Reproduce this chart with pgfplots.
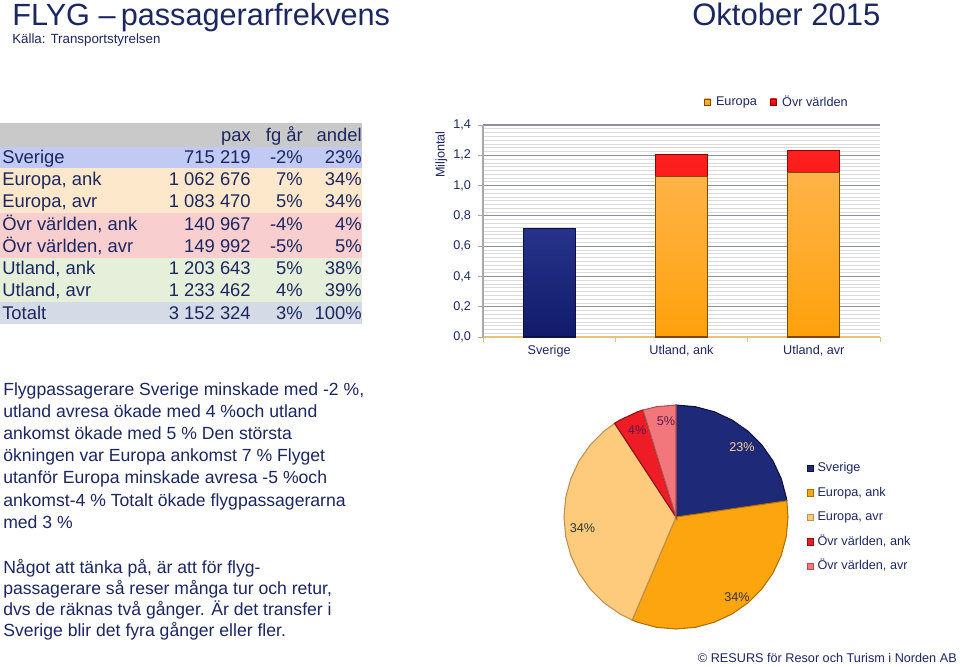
\documentclass[border=0pt]{standalone}
\usepackage{fontspec}
\setmainfont{Liberation Sans}
\usepackage{pgfplots}
\pgfplotsset{compat=1.18}
\usepackage{pgfplotstable}
\usepgfplotslibrary{polar}

\definecolor{txt}{HTML}{1C2761}
\definecolor{hdr}{HTML}{C9C9C9}
\definecolor{rsve}{HTML}{C0CAF2}
\definecolor{reur}{HTML}{FEE8CB}
\definecolor{rovr}{HTML}{F9CECE}
\definecolor{rutl}{HTML}{E5EFDA}
\definecolor{rtot}{HTML}{D4DAE6}
\definecolor{navy}{HTML}{1E2A78}
\definecolor{navyT}{HTML}{26338A}
\definecolor{navyB}{HTML}{121B6A}
\definecolor{navyD}{HTML}{0B103F}
\definecolor{orT}{HTML}{FFB448}
\definecolor{orB}{HTML}{FFA10C}
\definecolor{orD}{HTML}{7A4A00}
\definecolor{redT}{HTML}{FF2020}
\definecolor{redB}{HTML}{E00000}
\definecolor{redD}{HTML}{8A0000}
\definecolor{pOr}{HTML}{FDA50F}
\definecolor{pOrD}{HTML}{B07000}
\definecolor{pLo}{HTML}{FECB7C}
\definecolor{pLoD}{HTML}{C09050}
\definecolor{pRed}{HTML}{EE1C24}
\definecolor{pRedD}{HTML}{901010}
\definecolor{pPink}{HTML}{F2777C}
\definecolor{pPinkD}{HTML}{B05050}
\definecolor{majgrid}{HTML}{8C90A0}
\definecolor{mingrid}{HTML}{DADADA}
\definecolor{xax}{HTML}{E8C27A}
\definecolor{yax}{HTML}{A8A8A8}

\pgfplotsset{sqlegend/.style={legend image code/.code={\path[##1, line width=0.4pt] (0pt,-2.4pt) rectangle (4.6pt,2.4pt);}}}

\pgfplotstableread{
x pax
0 0.715219
}\barSverige
\pgfplotstableread{
x pax
1 1.062676
2 1.083470
}\barEuropa
\pgfplotstableread{
x pax
1 1.203643
2 1.233462
}\barUtland

\newcommand\fs[2]{\fontsize{#1}{#2}\selectfont}
\newcommand\trow[5]{%
  \node[anchor=base west] at (2,#1) {#2};
  \node[anchor=base east] at (251,#1) {#3};
  \node[anchor=base east] at (303,#1) {#4};
  \node[anchor=base east] at (362,#1) {#5};}

\begin{document}
\begin{tikzpicture}
\begin{scope}[x=0.75pt,y=-0.75pt]
\useasboundingbox (0,0) rectangle (960,667);
\fill[white] (0,0) rectangle (960,667);
% titles
\node[anchor=base west, inner sep=0, text=txt, font=\fs{23}{27}] at (12,26) {FLYG –\,passagerarfrekvens};
\node[anchor=base west, inner sep=0, text=txt, font=\fs{10}{12}] at (12,44) {Källa: Transportstyrelsen};
\node[anchor=base west, inner sep=0, text=txt, font=\fs{23.3}{27}] at (692,26) {Oktober 2015};
\node[anchor=base east, inner sep=0, text=txt, font=\fs{9.5}{11}] at (957,662) {© RESURS för Resor och Turism i Norden AB};
% table
\fill[hdr] (0,123) rectangle (362,147);
\fill[rsve] (0,147) rectangle (362,168);
\fill[reur] (0,168) rectangle (362,213);
\fill[rovr] (0,213) rectangle (362,258);
\fill[rutl] (0,258) rectangle (362,302);
\fill[rtot] (0,302) rectangle (362,324);
\begin{scope}[every node/.style={inner sep=0pt, text=txt, font=\fs{13.8}{16}}]
\trow{142}{}{pax}{fg år}{andel}
\trow{163.3}{Sverige}{715 219}{-2\%}{23\%}
\trow{185.5}{Europa, ank}{1 062 676}{7\%}{34\%}
\trow{207.8}{Europa, avr}{1 083 470}{5\%}{34\%}
\trow{230}{Övr världen, ank}{140 967}{-4\%}{4\%}
\trow{252.3}{Övr världen, avr}{149 992}{-5\%}{5\%}
\trow{274.5}{Utland, ank}{1 203 643}{5\%}{38\%}
\trow{296.8}{Utland, avr}{1 233 462}{4\%}{39\%}
\trow{319}{Totalt}{3 152 324}{3\%}{100\%}
\end{scope}
% paragraphs
\begin{scope}[every node/.style={inner sep=0pt, text=txt, font=\fs{13.2}{16}, anchor=base west}]
\node at (3,395) {Flygpassagerare Sverige minskade med -2 \%,};
\node at (3,417.2) {utland avresa ökade med 4 \%och utland};
\node at (3,439.4) {ankomst ökade med 5 \% Den största};
\node at (3,461.6) {ökningen var Europa ankomst 7 \% Flyget};
\node at (3,483.8) {utanför Europa minskade avresa -5 \%och};
\node at (3,506) {ankomst-4 \% Totalt ökade flygpassagerarna};
\node at (3,528.2) {med 3 \%};
\node at (3,573) {Något att tänka på, är att för flyg-};
\node at (3,594) {passagerare så reser många tur och retur,};
\node at (3,615) {dvs de räknas två gånger. Är det transfer i};
\node at (3,636) {Sverige blir det fyra gånger eller fler.};
\end{scope}
\end{scope}

% ---------------- bar chart
\begin{axis}[
  at={(362.25pt,-252.75pt)}, anchor=south west,
  scale only axis, width=297.75pt, height=159pt,
  xmin=-0.5, xmax=2.5, ymin=0, ymax=1.4,
  axis x line*=bottom, axis y line*=left,
  x axis line style={draw=xax, line width=0.8pt, -},
  y axis line style={draw=yax, line width=0.8pt, -},
  tick align=outside,
  xtick={-0.5,0.5,1.5,2.5}, xticklabels={},
  extra x ticks={0,1,2},
  extra x tick labels={Sverige,{Utland, ank},{Utland, avr}},
  extra x tick style={major tick length=0pt, grid=none,
     xticklabel style={yshift=-3pt}},
  xtick style={draw=xax, line width=0.6pt},
  major tick length=3.5pt,
  ytick={0,0.2,0.4,0.6,0.8,1.0,1.2,1.4},
  minor y tick num=7,
  ytick style={draw=yax, line width=0.6pt},
  minor tick length=0pt,
  ymajorgrids, yminorgrids,
  major grid style={draw=majgrid, line width=0.8pt},
  minor grid style={draw=mingrid, line width=0.5pt},
  yticklabel style={xshift=-2pt, /pgf/number format/.cd, fixed, fixed zerofill, precision=1, use comma, assume math mode=true},
  tick label style={font=\fs{9.5}{11}, text=txt},
  ylabel={Miljontal},
  every axis y label/.style={at={(axis description cs:-0.105,0.86)}, rotate=90, anchor=center, font=\fs{9.5}{11}, text=txt},
  legend columns=2, reverse legend,
  legend style={at={(axis description cs:0.546,1.1085)}, anchor=west, draw=none, fill=none,
     font=\fs{9.5}{11}, text=txt, /tikz/every even column/.append style={column sep=8pt},
     /tikz/every odd column/.append style={column sep=2pt}},
]
\addplot[ybar, bar width=39pt, bar shift=0pt, top color=navyT, bottom color=navyB, draw=navyD, line width=0.8pt, forget plot]
  table[x=x, y=pax] {\barSverige};
\addplot[ybar, bar width=39pt, bar shift=0pt, top color=redT, bottom color=redB, draw=redD, line width=0.8pt, sqlegend]
  table[x=x, y=pax] {\barUtland};
\addlegendentry{Övr världen}
\addplot[ybar, bar width=39pt, bar shift=0pt, top color=orT, bottom color=orB, draw=orD, line width=0.8pt, sqlegend]
  table[x=x, y=pax] {\barEuropa};
\addlegendentry{Europa}
\end{axis}

% ---------------- pie chart
\begin{polaraxis}[
  at={(507pt,-387.75pt)}, anchor=center,
  scale only axis, width=168pt, height=168pt,
  ymin=0, ymax=1, hide axis, clip=false,
  sqlegend, legend cell align=left,
  legend style={at={(axis description cs:1.083,0.752)}, anchor=north west, draw=none, fill=none,
     inner sep=0pt, row sep=7.4pt, font=\fs{9.5}{11},
     /tikz/every odd column/.append style={column sep=2pt},
     nodes={inner sep=1pt, text height=7pt, text depth=2pt, text=txt}},
]
\addplot[fill=navy, draw=navyD, line width=0.8pt] coordinates {
 (0,0) (90,1) (80,1) (70,1) (60,1) (50,1) (40,1) (30,1) (20,1) (10,1) (8.32,1)} -- cycle;
\addlegendentry{Sverige}
\addplot[fill=pOr, draw=pOrD, line width=0.8pt] coordinates {
 (0,0) (8.32,1) (0,1) (-10,1) (-20,1) (-30,1) (-40,1) (-50,1) (-60,1) (-70,1) (-80,1) (-90,1) (-100,1) (-110,1) (-113.04,1)} -- cycle;
\addlegendentry{Europa, ank}
\addplot[fill=pLo, draw=pLoD, line width=0.8pt] coordinates {
 (0,0) (-113.04,1) (-120,1) (-130,1) (-140,1) (-150,1) (-160,1) (-170,1) (-180,1) (-190,1) (-200,1) (-210,1) (-220,1) (-230,1) (-236.77,1)} -- cycle;
\addlegendentry{Europa, avr}
\addplot[fill=pRed, draw=pRedD, line width=0.8pt] coordinates {
 (0,0) (-236.77,1) (-240,1) (-250,1) (-252.87,1)} -- cycle;
\addlegendentry{Övr världen, ank}
\addplot[fill=pPink, draw=pPinkD, line width=0.8pt] coordinates {
 (0,0) (-252.87,1) (-260,1) (-270,1)} -- cycle;
\addlegendentry{Övr världen, avr}
\node[font=\fs{9.5}{11}, text=pLo!80!white] at (axis cs:46.7,0.86) {23\%};
\node[font=\fs{9.5}{11}, text=black!80] at (axis cs:-52.7,0.9) {34\%};
\node[font=\fs{9.5}{11}, text=black!80] at (axis cs:186.7,0.84) {34\%};
\node[font=\fs{9.5}{11}, text=txt!60!purple] at (axis cs:114.1,0.85) {4\%};
\node[font=\fs{9.5}{11}, text=txt!60!purple] at (axis cs:96,0.86) {5\%};
\end{polaraxis}
\end{tikzpicture}
\end{document}
